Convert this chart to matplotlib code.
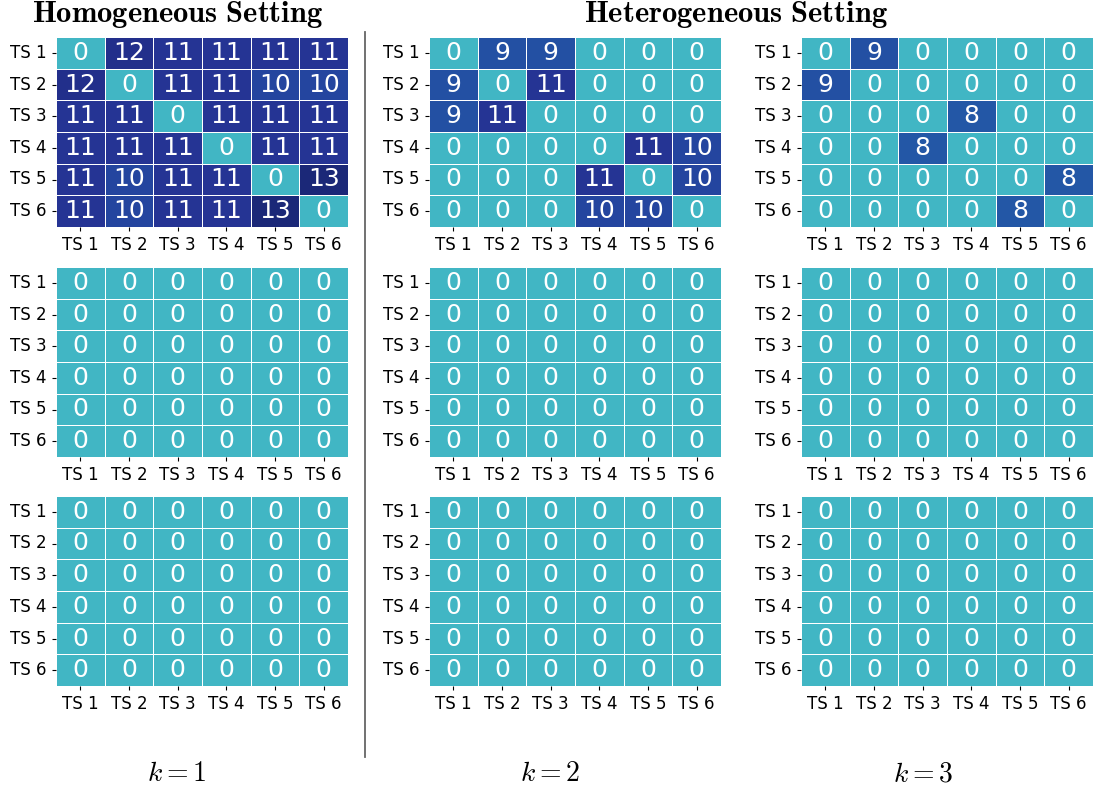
import numpy as np
import matplotlib
matplotlib.use("Agg")
import matplotlib.pyplot as plt
from matplotlib.colors import LinearSegmentedColormap
from matplotlib.lines import Line2D
import seaborn as sns

plt.rcParams["mathtext.fontset"] = "cm"

labels = ["TS 1", "TS 2", "TS 3", "TS 4", "TS 5", "TS 6"]
k_labels = ["$k=1$", "$k=2$", "$k=3$"]

homo_top = [
    [0, 12, 11, 11, 11, 11],
    [12, 0, 11, 11, 10, 10],
    [11, 11, 0, 11, 11, 11],
    [11, 11, 11, 0, 11, 11],
    [11, 10, 11, 11, 0, 13],
    [11, 10, 11, 11, 13, 0],
]
hetero_k2_top = [
    [0, 9, 9, 0, 0, 0],
    [9, 0, 11, 0, 0, 0],
    [9, 11, 0, 0, 0, 0],
    [0, 0, 0, 0, 11, 10],
    [0, 0, 0, 11, 0, 10],
    [0, 0, 0, 10, 10, 0],
]
hetero_k3_top = [
    [0, 9, 0, 0, 0, 0],
    [9, 0, 0, 0, 0, 0],
    [0, 0, 0, 8, 0, 0],
    [0, 0, 8, 0, 0, 0],
    [0, 0, 0, 0, 0, 8],
    [0, 0, 0, 0, 8, 0],
]
all_zero = [
    [0, 0, 0, 0, 0, 0],
    [0, 0, 0, 0, 0, 0],
    [0, 0, 0, 0, 0, 0],
    [0, 0, 0, 0, 0, 0],
    [0, 0, 0, 0, 0, 0],
    [0, 0, 0, 0, 0, 0],
]

# rows of the figure, each with the three columns (k=1, k=2, k=3)
grid = [
    [homo_top, hetero_k2_top, hetero_k3_top],
    [all_zero, all_zero, all_zero],
    [all_zero, all_zero, all_zero],
]

cmap = LinearSegmentedColormap.from_list(
    "teal_navy",
    [(0.0, "#41b6c4"), (8 / 13, "#2357a6"), (9 / 13, "#2350a3"),
     (10 / 13, "#24459f"), (11 / 13, "#253494"), (12 / 13, "#222f8c"),
     (1.0, "#1b2878")],
)

W, H = 1096, 789
fig = plt.figure(figsize=(W / 100, H / 100), dpi=100)

lefts = [56, 429, 801]
tops = [37, 267, 496]
ax_w, ax_h = 292, 190

for r, row in enumerate(grid):
    for c, mat in enumerate(row):
        ax = fig.add_axes([lefts[c] / W, 1 - (tops[r] + ax_h) / H, ax_w / W, ax_h / H])
        sns.heatmap(np.array(mat), ax=ax, cmap=cmap, vmin=0, vmax=13, cbar=False,
                    annot=True, fmt="d", annot_kws={"size": 18, "color": "white"},
                    linewidths=0.7, linecolor="white",
                    xticklabels=labels, yticklabels=labels)
        ax.tick_params(axis="both", labelsize=12, length=3)
        ax.set_yticklabels(labels, rotation=0)
        ax.set_xticklabels(labels, rotation=0)

fig.text(178 / W, 1 - 14 / H, r"$\mathbf{Homogeneous\ Setting}$", ha="center", va="center", fontsize=22)
fig.text(736 / W, 1 - 14 / H, r"$\mathbf{Heterogeneous\ Setting}$", ha="center", va="center", fontsize=22)

for x, lab in zip([177, 550, 923], k_labels):
    fig.text(x / W, 1 - 773 / H, lab, ha="center", va="center", fontsize=20)

fig.add_artist(Line2D([365 / W, 365 / W], [1 - 32 / H, 1 - 757 / H],
                      transform=fig.transFigure, color="#666666", lw=1.3))

fig.savefig("out.png", dpi=100)
